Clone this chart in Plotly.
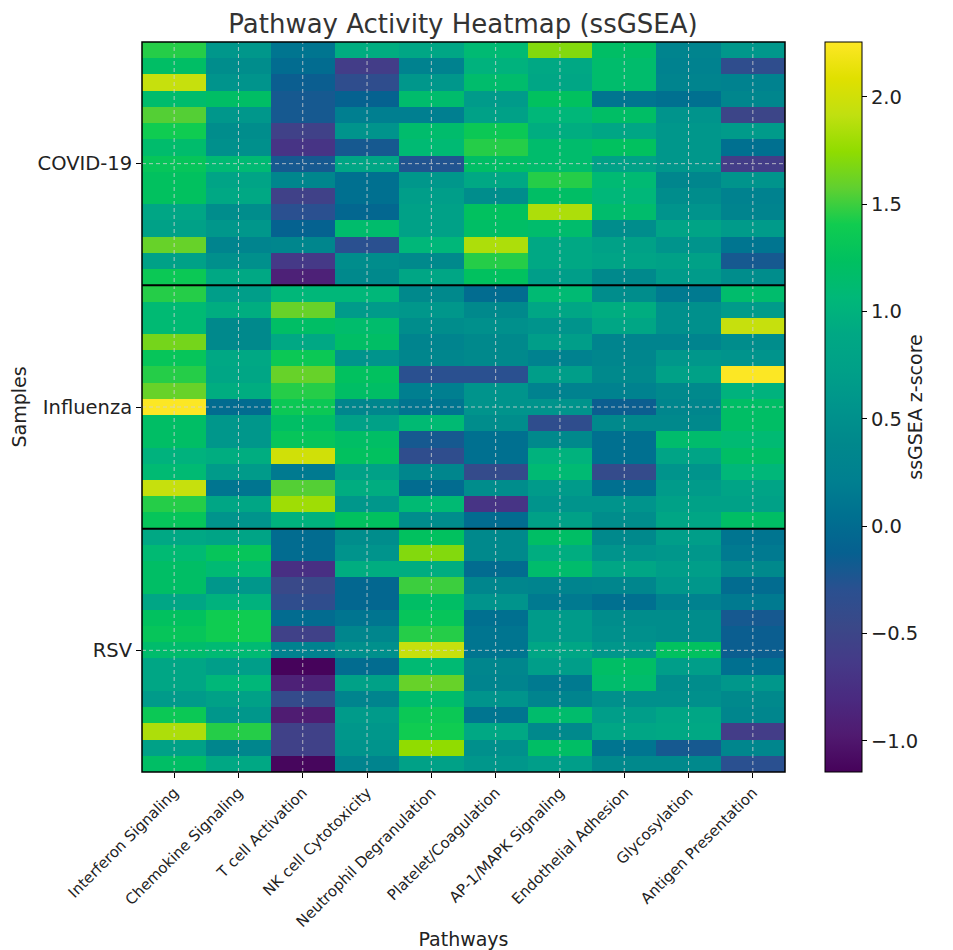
import plotly.graph_objects as go

pathways = ["Interferon Signaling", "Chemokine Signaling", "T cell Activation",
            "NK cell Cytotoxicity", "Neutrophil Degranulation", "Platelet/Coagulation",
            "AP-1/MAPK Signaling", "Endothelial Adhesion", "Glycosylation",
            "Antigen Presentation"]
groups = ["COVID-19", "Influenza", "RSV"]

covid = [
    [1.45, 0.60, 0.10, 0.95, 0.85, 1.10, 1.70, 1.20, 0.30, 0.60],
    [1.20, 0.45, 0.00, -0.60, 0.25, 1.00, 0.90, 1.15, 0.25, -0.35],
    [1.95, 0.55, -0.15, -0.35, 0.60, 1.15, 0.85, 1.15, 0.30, 0.25],
    [1.15, 1.20, -0.20, -0.10, 1.15, 0.65, 1.25, 0.10, 0.05, 0.35],
    [1.55, 0.60, -0.20, 0.20, 0.20, 0.75, 1.05, 1.20, 0.55, -0.50],
    [1.40, 0.45, -0.55, 0.55, 1.15, 1.35, 0.95, 0.85, 0.60, 0.65],
    [1.15, 0.50, -0.70, -0.20, 1.10, 1.45, 1.15, 1.25, 0.60, 0.05],
    [1.30, 1.10, -0.20, 0.85, -0.25, 1.20, 1.15, 0.75, 0.60, -0.60],
    [1.25, 0.80, 0.35, 0.05, 0.60, 0.90, 1.45, 1.10, 0.35, 0.55],
    [1.25, 0.90, -0.55, 0.05, 0.70, 0.45, 1.20, 1.05, 0.45, 0.25],
    [0.85, 0.45, -0.30, -0.05, 0.75, 1.25, 1.85, 1.15, 0.55, 0.30],
    [0.75, 0.60, -0.10, 1.15, 0.75, 1.20, 1.15, 0.45, 0.80, 0.65],
    [1.60, 0.30, 0.35, -0.30, 1.05, 1.85, 0.90, 0.75, 0.55, 0.10],
    [0.75, 0.50, -0.65, 0.45, 0.40, 1.45, 0.90, 0.80, 0.75, -0.20],
    [1.35, 0.90, -0.90, 0.40, 0.85, 1.25, 0.70, 0.40, 0.65, 0.45],
]
influenza = [
    [1.45, 0.70, 1.05, 1.05, 0.40, 0.00, 1.10, 0.45, 0.15, 1.15],
    [1.10, 0.95, 1.60, 0.65, 0.60, 0.40, 0.85, 0.95, 0.50, 0.65],
    [1.10, 0.40, 1.20, 1.15, 0.45, 0.50, 0.55, 0.85, 0.50, 1.95],
    [1.65, 0.40, 0.90, 1.20, 0.30, 0.40, 0.70, 0.30, 0.30, 0.45],
    [1.30, 0.90, 1.35, 0.55, 0.35, 0.40, 0.25, 0.35, 0.60, 0.55],
    [1.45, 0.85, 1.60, 1.25, -0.30, -0.30, 0.70, 0.40, 0.75, 2.25],
    [1.60, 0.95, 1.45, 1.20, 0.20, 0.55, 0.25, 0.25, 0.40, 1.00],
    [2.25, 0.00, 1.35, 0.35, 0.10, 0.55, 0.55, -0.15, 0.35, 1.20],
    [1.20, 0.60, 1.20, 0.75, 1.10, 0.45, -0.35, 0.40, 0.40, 1.20],
    [1.20, 0.60, 1.30, 1.20, -0.20, 0.05, 0.40, 0.05, 1.15, 1.10],
    [1.00, 0.95, 2.00, 1.25, -0.35, 0.05, 1.00, 0.05, 0.80, 1.20],
    [1.10, 0.65, 0.15, 0.75, 0.35, -0.40, 1.10, -0.40, 0.55, 1.05],
    [1.95, 0.10, 1.55, 0.95, 0.00, 0.45, 0.65, 0.05, 0.65, 0.80],
    [1.45, 0.85, 1.80, 0.60, 1.10, -0.70, 0.55, 0.55, 0.75, 0.75],
    [1.30, 0.55, 1.00, 1.25, 0.45, 0.00, 0.75, 0.45, 0.85, 1.20],
]
rsv = [
    [0.90, 0.80, 0.00, 0.45, 1.25, 0.40, 1.20, 0.40, 0.70, 0.10],
    [1.10, 1.30, 0.00, 0.55, 1.70, 0.40, 0.95, 0.55, 0.60, 0.15],
    [1.20, 1.10, -0.75, 0.95, 0.95, 0.00, 1.15, 0.85, 0.70, 0.40],
    [1.20, 0.60, -0.45, -0.05, 1.50, 0.35, 0.30, 0.35, 0.60, 0.00],
    [0.85, 1.00, -0.35, -0.05, 1.20, 0.55, 0.15, 0.05, 0.25, 0.15],
    [1.25, 1.40, 0.00, 0.10, 1.30, 0.05, 0.65, 0.45, 0.45, -0.20],
    [1.30, 1.40, -0.55, 0.35, 1.45, 0.10, 0.65, 0.50, 0.45, -0.15],
    [1.15, 1.10, 0.25, 0.50, 1.95, 0.10, 0.85, 0.60, 1.25, -0.15],
    [0.85, 0.70, -1.14, 0.00, 1.10, 0.35, 0.70, 1.20, 0.70, 0.05],
    [0.85, 1.05, -0.90, 0.75, 1.60, 0.30, 0.15, 1.15, 0.45, 0.60],
    [0.65, 0.75, -0.40, 0.30, 1.15, 0.55, 0.30, 0.50, 0.50, 0.40],
    [1.35, 0.60, -0.95, 0.65, 1.35, 0.10, 1.15, 0.70, 0.85, 0.35],
    [1.85, 1.45, -0.55, 0.60, 1.40, 0.90, 0.40, 0.85, 0.90, -0.60],
    [0.75, 0.35, -0.55, 0.55, 1.75, 0.50, 1.20, 0.10, -0.20, 0.35],
    [1.20, 0.90, -1.12, 0.30, 0.75, 0.60, 0.70, 0.40, 0.40, -0.30],
]

group_data = [covid, influenza, rsv]
z = [row for g in group_data for row in g]
n_rows = len(z)
sizes = [len(g) for g in group_data]

centers, bounds = [], []
start = 0
for s in sizes:
    centers.append(start + (s - 1) / 2)
    start += s
    bounds.append(start - 0.5)
bounds = bounds[:-1]

# vivid viridis-like colour ramp, as rendered in the reference colour bar
ramp = ["#46025a", "#501a70", "#4a2a80", "#453a88", "#3a4888", "#2a5090",
        "#066090", "#007090", "#008090", "#00888c", "#00948c", "#00a088",
        "#00a884", "#00b878", "#00c060", "#10cc50", "#60d030", "#90dc00",
        "#c0e010", "#e0e000", "#fde725"]
colorscale = [[i / (len(ramp) - 1), c] for i, c in enumerate(ramp)]

fig = go.Figure()
fig.add_trace(go.Heatmap(
    z=z,
    x=list(range(len(pathways))),
    y=list(range(n_rows)),
    colorscale=colorscale,
    zmin=-1.145, zmax=2.256,
    colorbar=dict(
        title=dict(text="ssGSEA z-score", side="right",
                   font=dict(size=19, color="#222")),
        thickness=37, thicknessmode="pixels",
        len=730, lenmode="pixels",
        x=1.0622, xanchor="left", xpad=0,
        y=1, yanchor="top", ypad=0,
        outlinewidth=1, outlinecolor="black",
        ticks="outside", ticklen=5, tickcolor="black",
        tickvals=[-1.0, -0.5, 0.0, 0.5, 1.0, 1.5, 2.0],
        tickformat=".1f",
        tickfont=dict(size=19.5, color="#222"),
    ),
    hovertemplate="%{z:.2f}<extra></extra>",
))

shapes = []
grid_style = dict(color="rgba(210,210,210,0.8)", width=1, dash="4px,3px")
for i in range(len(pathways)):
    shapes.append(dict(type="line", xref="x", yref="paper", x0=i, x1=i, y0=0, y1=1,
                       line=grid_style, layer="above"))
for c in centers:
    shapes.append(dict(type="line", xref="paper", yref="y", x0=0, x1=1, y0=c, y1=c,
                       line=grid_style, layer="above"))
for b in bounds:
    shapes.append(dict(type="line", xref="paper", yref="y", x0=0, x1=1, y0=b, y1=b,
                       line=dict(color="black", width=2), layer="above"))
shapes.append(dict(type="rect", xref="paper", yref="paper", x0=0, x1=1, y0=0, y1=1,
                   line=dict(color="black", width=1.5), layer="above"))

W, H = 945, 942
fig.update_layout(
    width=W, height=H,
    margin=dict(l=134, r=168, t=34, b=178, autoexpand=False),
    paper_bgcolor="white", plot_bgcolor="white",
    font=dict(family="DejaVu Sans", color="#222"),
    title=dict(text="Pathway Activity Heatmap (ssGSEA)", x=455 / W,
               xanchor="center", y=1 - 16 / H, yanchor="middle",
               font=dict(size=26, color="#333")),
    shapes=shapes,
    xaxis=dict(
        tickvals=list(range(len(pathways))), ticktext=pathways,
        tickangle=-45, tickfont=dict(size=15, color="#222"),
        ticks="outside", ticklen=5, tickcolor="black",
        showgrid=False, zeroline=False, automargin=False,
        range=[-0.5, len(pathways) - 0.5],
        title=dict(text="Pathways", font=dict(size=19, color="#222"), standoff=18),
    ),
    yaxis=dict(
        tickvals=centers, ticktext=groups,
        tickfont=dict(size=19.5, color="#222"),
        ticks="outside", ticklen=5, tickcolor="black",
        showgrid=False, zeroline=False, automargin=False,
        range=[n_rows - 0.5, -0.5],
        title=dict(text="Samples", font=dict(size=19, color="#222"), standoff=12),
    ),
)

fig.write_html("out.html")
